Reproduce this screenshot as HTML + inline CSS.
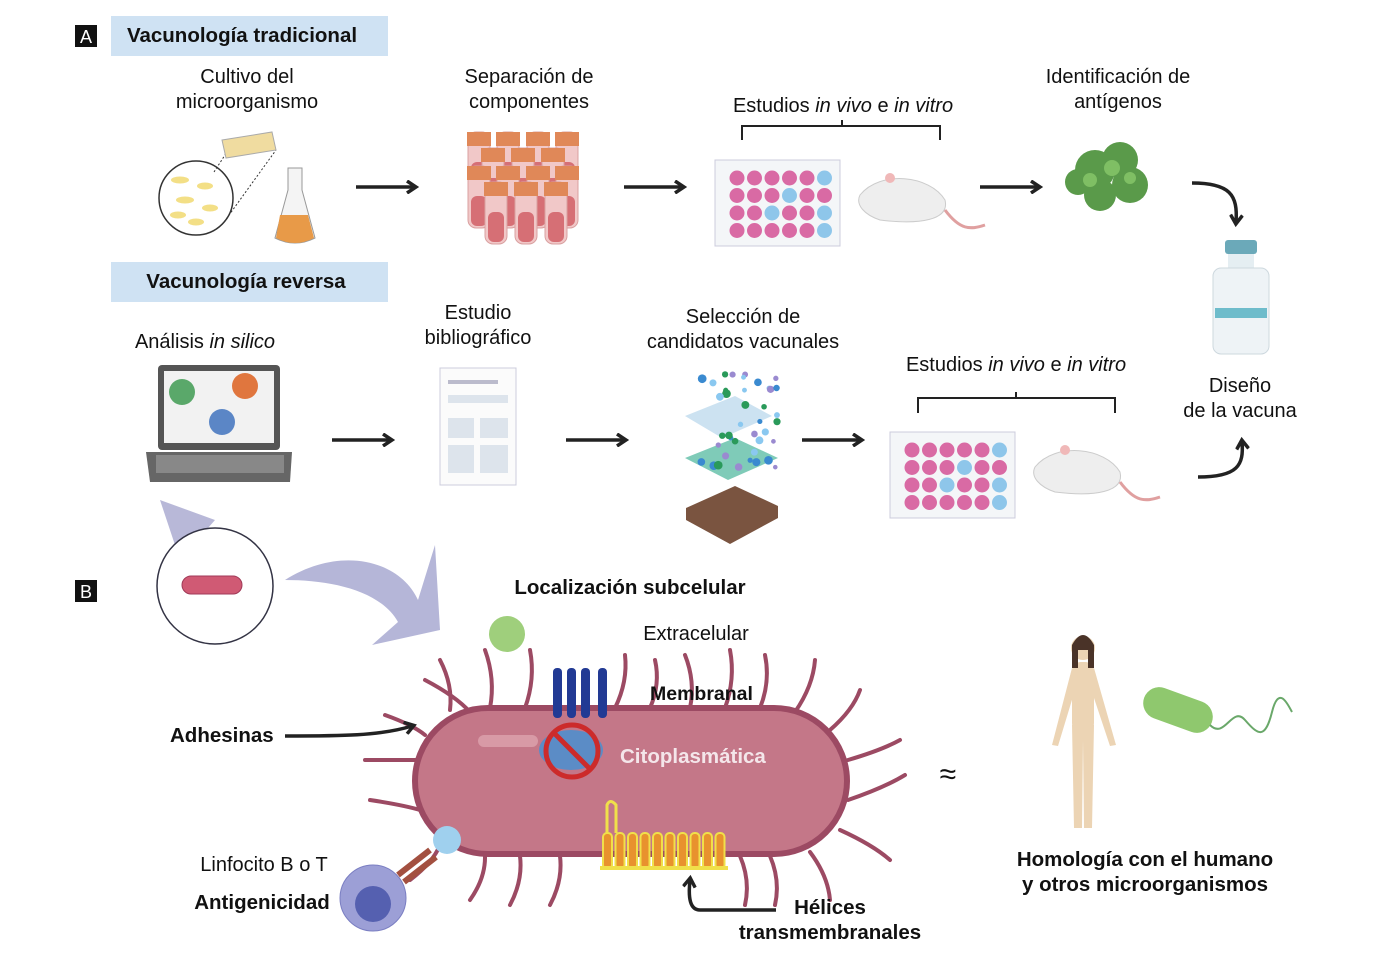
<!DOCTYPE html>
<html><head><meta charset="utf-8"><style>
body{margin:0;background:#fff}
svg{display:block;font-family:"Liberation Sans",Arial,sans-serif}
</style></head><body>
<svg id="s" width="1376" height="974" viewBox="0 0 1376 974" xmlns="http://www.w3.org/2000/svg">
<defs>
<marker id="ah" markerWidth="14" markerHeight="14" refX="8" refY="7" orient="auto" markerUnits="userSpaceOnUse"><path d="M1,1 L10,7 L1,13" fill="none" stroke="#222" stroke-width="3.5"/></marker>
</defs>
<rect width="1376" height="974" fill="#fff"/>
<rect x="75" y="25" width="22" height="22" fill="#111"/>
<text x="86" y="43" font-size="18" fill="#fff" text-anchor="middle">A</text>
<rect x="111" y="16" width="277" height="40" fill="#cfe2f3"/>
<text x="242" y="42" font-size="20.5" font-weight="bold" text-anchor="middle" fill="#111">Vacunología tradicional</text>
<g font-size="20" fill="#111" text-anchor="middle">
<text x="247" y="83">Cultivo del</text><text x="247" y="108">microorganismo</text>
<text x="529" y="83">Separación de</text><text x="529" y="108">componentes</text>
<text x="843" y="112">Estudios <tspan font-style="italic">in vivo</tspan> e <tspan font-style="italic">in vitro</tspan></text>
<text x="1118" y="83">Identificación de</text><text x="1118" y="108">antígenos</text>
<text x="1240" y="392">Diseño</text><text x="1240" y="417">de la vacuna</text>
<text x="205" y="348">Análisis <tspan font-style="italic">in silico</tspan></text>
<text x="478" y="319">Estudio</text><text x="478" y="344">bibliográfico</text>
<text x="743" y="323">Selección de</text><text x="743" y="348">candidatos vacunales</text>
<text x="1016" y="371">Estudios <tspan font-style="italic">in vivo</tspan> e <tspan font-style="italic">in vitro</tspan></text>
</g>
<rect x="111" y="262" width="277" height="40" fill="#cfe2f3"/>
<text x="246" y="288" font-size="20.5" font-weight="bold" text-anchor="middle" fill="#111">Vacunología reversa</text>
<path d="M742,140 V126 H940 V140 M842,126 V120" fill="none" stroke="#222" stroke-width="2"/>
<path d="M918,413 V398 H1115 V413 M1016,398 V392" fill="none" stroke="#222" stroke-width="2"/>
<g stroke="#222" stroke-width="3.5" fill="none" marker-end="url(#ah)">
<path d="M356,187 H414"/><path d="M624,187 H682"/><path d="M980,187 H1038"/>
<path d="M332,440 H390"/><path d="M566,440 H624"/><path d="M802,440 H860"/>
<path d="M1192,183 C1230,183 1238,195 1236,222"/>
<path d="M1198,477 C1238,477 1244,465 1242,442"/>
</g>
<circle cx="196" cy="198" r="37" fill="#fff" stroke="#333" stroke-width="1.5"/>
<g fill="#f3df86"><ellipse cx="180" cy="180" rx="9" ry="3.5"/><ellipse cx="205" cy="186" rx="8" ry="3.5"/><ellipse cx="185" cy="200" rx="9" ry="3.5"/><ellipse cx="210" cy="208" rx="8" ry="3.5"/><ellipse cx="178" cy="215" rx="8" ry="3.5"/><ellipse cx="196" cy="222" rx="8" ry="3.5"/></g>
<path d="M214,172 L236,138 M224,222 L276,150" stroke="#333" stroke-dasharray="2,2"/>
<path d="M222,140 L272,132 L276,150 L226,158 Z" fill="#f0dca0" stroke="#aaa"/>
<path d="M288,168 L288,190 L275,238 Q295,248 315,238 L302,190 L302,168 Z" fill="#f4f4f4" stroke="#999"/>
<path d="M280,215 L308,215 L314,238 Q295,248 276,238 Z" fill="#e89a48"/>
<g id="tubes"></g>
<g id="plates"></g>
<g fill="#5a9a4a"><circle cx="1095" cy="170" r="20"/><circle cx="1120" cy="160" r="18"/><circle cx="1130" cy="185" r="18"/><circle cx="1100" cy="195" r="16"/><circle cx="1078" cy="182" r="13"/></g>
<g fill="#7fbf64"><circle cx="1112" cy="168" r="8"/><circle cx="1090" cy="180" r="7"/><circle cx="1130" cy="178" r="6"/></g>
<rect x="1225" y="240" width="32" height="14" rx="3" fill="#6ba9b9"/>
<rect x="1228" y="254" width="26" height="14" fill="#e5eef2"/>
<rect x="1213" y="268" width="56" height="86" rx="8" fill="#eef3f6" stroke="#cdd8de"/>
<rect x="1215" y="308" width="52" height="10" fill="#6ebccb"/>
<rect x="158" y="365" width="122" height="85" rx="4" fill="#555" />
<rect x="164" y="371" width="110" height="72" fill="#f2f2f2"/>
<path d="M146,452 H292 L290,482 H150 Z" fill="#666"/>
<rect x="156" y="455" width="128" height="18" fill="#888"/>
<circle cx="182" cy="392" r="13" fill="#5aa86a"/><circle cx="245" cy="386" r="13" fill="#e0763e"/><circle cx="222" cy="422" r="13" fill="#5b86c6"/>
<rect x="440" y="368" width="76" height="117" fill="#fbfbfb" stroke="#ccd"/>
<rect x="448" y="380" width="50" height="4" fill="#bbc"/>
<rect x="448" y="395" width="60" height="8" fill="#dde4ec"/>
<rect x="448" y="418" width="26" height="20" fill="#dde4ec"/><rect x="480" y="418" width="28" height="20" fill="#dde4ec"/>
<rect x="448" y="445" width="26" height="28" fill="#dde4ec"/><rect x="480" y="445" width="28" height="28" fill="#dde4ec"/>
<path d="M685,416 L735,396 L772,416 L722,438 Z" fill="#c6dfef" opacity=".9"/>
<path d="M685,458 L735,438 L778,458 L728,480 Z" fill="#7fcbb8"/>
<path d="M686,508 L735,486 L778,506 L730,530 Z M686,508 V520 L730,544 V530 Z M778,506 V518 L730,544 V530Z" fill="#7a5440"/>
<g id="dots"></g>
<rect x="75" y="580" width="22" height="22" fill="#111"/>
<text x="86" y="598" font-size="18" fill="#fff" text-anchor="middle">B</text>
<path d="M160,500 L215,520 L180,560 Z" fill="#b8b8d8"/>
<circle cx="215" cy="586" r="58" fill="#fff" stroke="#334" stroke-width="1.5"/>
<rect x="182" y="576" width="60" height="18" rx="9" fill="#d05a74" stroke="#a03a58"/>
<path d="M285,580 C340,545 400,560 418,600 L435,545 L440,630 L372,645 L398,622 C380,590 330,580 285,580Z" fill="#b5b6d8"/>
<text x="630" y="594" font-size="20.5" font-weight="bold" text-anchor="middle" fill="#111">Localización subcelular</text>
<text x="696" y="640" font-size="20" text-anchor="middle" fill="#111">Extracelular</text>
<circle cx="507" cy="634" r="18" fill="#9fcf7c"/>
<g id="flag" stroke="#9c4a63" stroke-width="4" fill="none" stroke-linecap="round"></g>
<rect x="415" y="708" width="432" height="146" rx="73" fill="#c47788" stroke="#9c4a63" stroke-width="6"/>
<rect x="478" y="735" width="60" height="12" rx="6" fill="#d89aa6"/>
<text x="650" y="700" font-size="19.5" font-weight="bold" fill="#111">Membranal</text>
<text x="620" y="763" font-size="20.5" font-weight="bold" fill="#f4e6ea">Citoplasmática</text>
<g fill="#223a94"><rect x="553" y="668" width="9" height="50" rx="4"/><rect x="567" y="668" width="9" height="50" rx="4"/><rect x="581" y="668" width="9" height="50" rx="4"/><rect x="598" y="668" width="9" height="50" rx="4"/></g>
<ellipse cx="571" cy="750" rx="32" ry="20" fill="#5b8cc6"/>
<circle cx="572" cy="751" r="26" fill="none" stroke="#cc2b2b" stroke-width="5"/>
<path d="M554,733 L590,769" stroke="#cc2b2b" stroke-width="5"/>
<g id="helix"></g>
<path d="M600,868 H728" stroke="#f0e04a" stroke-width="4" fill="none"/>
<g stroke="#222" stroke-width="3.5" fill="none" marker-end="url(#ah)">
<path d="M285,736 C340,736 380,736 412,726"/>
<path d="M776,910 H700 C690,910 688,898 690,880"/>
</g>
<text x="170" y="742" font-size="20.5" font-weight="bold" fill="#111">Adhesinas</text>
<text x="830" y="914" font-size="20.5" font-weight="bold" text-anchor="middle" fill="#111">Hélices</text>
<text x="830" y="939" font-size="20.5" font-weight="bold" text-anchor="middle" fill="#111">transmembranales</text>
<text x="264" y="871" font-size="20" text-anchor="middle" fill="#111">Linfocito B o T</text>
<text x="262" y="909" font-size="20.5" font-weight="bold" text-anchor="middle" fill="#111">Antigenicidad</text>
<circle cx="373" cy="898" r="33" fill="#9c9fd6" stroke="#7a7ec2"/>
<circle cx="373" cy="904" r="18" fill="#5560b0"/>
<path d="M398,875 L430,850 M404,882 L436,857" stroke="#a35040" stroke-width="6"/>
<circle cx="447" cy="840" r="14" fill="#9fd0ee"/>
<text x="948" y="784" font-size="30" text-anchor="middle" fill="#111">≈</text>
<g fill="#ecd4b4">
<circle cx="1083" cy="648" r="12"/><rect x="1072" y="662" width="22" height="70" rx="9"/>
<path d="M1072,668 L1052,745 L1058,746 L1078,680Z M1094,668 L1116,745 L1110,746 L1088,680Z"/>
<path d="M1072,725 L1074,828 L1082,828 L1083,740 L1084,828 L1092,828 L1094,725Z"/>
</g>
<path d="M1072,645 Q1083,625 1094,645 L1094,668 L1088,668 L1088,650 L1078,650 L1078,668 L1072,668Z" fill="#4a3328"/>
<rect x="1142" y="694" width="72" height="32" rx="16" fill="#8fc86e" transform="rotate(20 1178 710)"/>
<path d="M1210,725 C1225,740 1232,705 1245,720 S1265,740 1272,712 S1288,705 1292,712" stroke="#6aa86a" stroke-width="2" fill="none"/>
<text x="1145" y="866" font-size="20.5" font-weight="bold" text-anchor="middle" fill="#111">Homología con el humano</text>
<text x="1145" y="891" font-size="20.5" font-weight="bold" text-anchor="middle" fill="#111">y otros microorganismos</text>
</svg>
<script>
var NS="http://www.w3.org/2000/svg";
function el(p,t,a){var e=document.createElementNS(NS,t);for(var k in a)e.setAttribute(k,a[k]);p.appendChild(e);return e;}
var tubes=document.getElementById('tubes');
[[468,132],[497,132],[527,132],[556,132],[482,148],[512,148],[542,148],[468,166],[497,166],[527,166],[556,166],[485,182],[515,182],[545,182]].forEach(function(p){
 el(tubes,'rect',{x:p[0],y:p[1],width:22,height:62,rx:8,fill:'#f1c8c8',stroke:'#d9a0a0'});
 el(tubes,'rect',{x:p[0]-1,y:p[1],width:24,height:14,fill:'#e08858'});
 el(tubes,'rect',{x:p[0]+3,y:p[1]+30,width:16,height:30,rx:6,fill:'#d66f75'});
});
var pl=document.getElementById('plates');
var blue=[[0,5],[1,3],[2,2],[2,5],[3,5]];
[[715,160],[890,432]].forEach(function(o){
 el(pl,'rect',{x:o[0],y:o[1],width:125,height:86,fill:'#f4f6f8',stroke:'#ccd'});
 for(var r=0;r<4;r++)for(var c=0;c<6;c++){var b=blue.some(function(q){return q[0]==r&&q[1]==c;});
 el(pl,'circle',{cx:o[0]+22+c*17.5,cy:o[1]+18+r*17.5,r:7.5,fill:b?'#8ec6ea':'#d96aa4'});}
 var mx=o[0]+145,my=o[1]+10;
 el(pl,'path',{d:'M'+mx+','+(my+25)+' C'+(mx+20)+','+(my)+' '+(mx+70)+','+(my+5)+' '+(mx+85)+','+(my+30)+' C'+(mx+90)+','+(my+50)+' '+(mx+60)+','+(my+55)+' '+(mx+20)+','+(my+50)+' C'+(mx+5)+','+(my+45)+' '+(mx-5)+','+(my+35)+' '+mx+','+(my+25)+'Z',fill:'#eeeeee',stroke:'#ccc'});
 el(pl,'path',{d:'M'+(mx+85)+','+(my+40)+' C'+(mx+100)+','+(my+60)+' '+(mx+110)+','+(my+60)+' '+(mx+125)+','+(my+55),stroke:'#e0a0a0','stroke-width':3,fill:'none'});
 el(pl,'circle',{cx:mx+30,cy:my+8,r:5,fill:'#f0b8b8'});
});
var d=document.getElementById('dots');
var seed=3;function rnd(){seed=(seed*9301+49297)%233280;return seed/233280;}
for(var i=0;i<40;i++){var x=700+rnd()*80,y=372+rnd()*100;el(d,'circle',{cx:x,cy:y,r:2+rnd()*2.5,fill:['#2a9a5a','#3a8ad0','#8ac8f0','#9a8ad0'][i%4]});}
var f=document.getElementById('flag');
var pts=[[450,710,440,660],[490,708,485,650],[525,708,530,650],[615,708,625,655],[650,708,655,660],[690,708,685,655],[725,708,730,650],[760,708,765,655],[795,712,815,660],[830,730,860,690],[848,760,900,740],[848,800,905,775],[840,830,890,860],[810,852,830,900],[770,856,775,905],[740,856,745,905],[560,856,550,905],[520,856,510,905],[485,856,470,900],[440,845,410,880],[420,810,370,800],[418,760,365,760],[425,735,385,715],[470,712,425,680]];
pts.forEach(function(p){el(f,'path',{d:'M'+p[0]+','+p[1]+' Q'+((p[0]+p[2])/2+8)+','+((p[1]+p[3])/2)+' '+p[2]+','+p[3]});});
var h=document.getElementById('helix');
for(var k=0;k<10;k++){var x=603+k*12.5;el(h,'rect',{x:x,y:833,width:9,height:36,rx:4,fill:'#e8922e',stroke:'#f0e04a','stroke-width':2});}
el(h,'path',{d:'M607,833 V805 Q610,798 616,805 V833',stroke:'#f0e04a','stroke-width':3,fill:'none'});
</script>
</body></html>
